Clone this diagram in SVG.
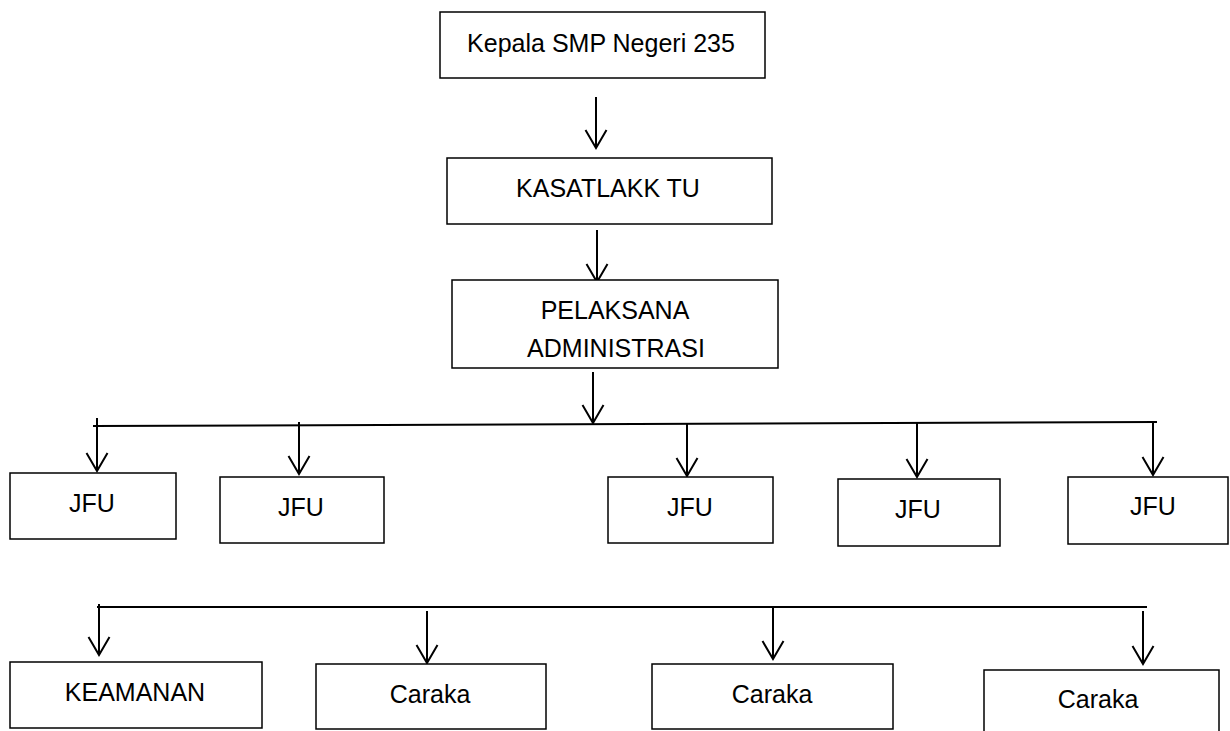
<svg xmlns="http://www.w3.org/2000/svg" width="1230" height="731" viewBox="0 0 1230 731">
<style>
.box{fill:#fff;stroke:#000;stroke-width:1.5}
.lbl{font-family:"Liberation Sans",Arial,sans-serif;font-size:25px;fill:#000;text-anchor:middle}
.con{fill:none;stroke:#000;stroke-width:2}
.arr{fill:none;stroke:#000;stroke-width:2;marker-end:url(#ah)}
</style>
<defs>
<marker id="ah" markerUnits="userSpaceOnUse" viewBox="-20 -12 22 24" refX="0" refY="0" markerWidth="22" markerHeight="24" orient="auto" overflow="visible">
<path d="M-18,-10.5 L0,0 L-18,10.5" fill="none" stroke="#000" stroke-width="2"/>
</marker>
</defs>
<rect width="1230" height="731" fill="#fff"/>
<g id="connectors">
<line class="arr" x1="596" y1="97" x2="596" y2="148"/>
<line class="arr" x1="597" y1="230" x2="597" y2="282"/>
<line class="arr" x1="593" y1="372" x2="593" y2="423"/>
<line class="con" x1="93" y1="426" x2="1157" y2="422"/>
<line class="arr" x1="97" y1="418" x2="97" y2="471"/>
<line class="arr" x1="299" y1="422" x2="299" y2="474"/>
<line class="arr" x1="687" y1="424" x2="687" y2="476"/>
<line class="arr" x1="917" y1="423" x2="917" y2="477"/>
<line class="arr" x1="1153" y1="422" x2="1153" y2="475"/>
<line class="con" x1="97" y1="607" x2="1147" y2="607"/>
<line class="arr" x1="99" y1="604" x2="99" y2="655"/>
<line class="arr" x1="427" y1="611" x2="427" y2="663"/>
<line class="arr" x1="773" y1="607" x2="773" y2="659"/>
<line class="arr" x1="1143" y1="611" x2="1143" y2="664"/>
</g>
<g id="kepala"><rect class="box" x="440" y="12" width="325" height="66"/><text class="lbl" x="601" y="52">Kepala SMP Negeri 235</text></g>
<g id="kasatlakk"><rect class="box" x="447" y="158" width="325" height="66"/><text class="lbl" x="608" y="197">KASATLAKK TU</text></g>
<g id="pelaksana"><rect class="box" x="452" y="280" width="326" height="88"/><text class="lbl" x="615" y="319">PELAKSANA</text><text class="lbl" x="616" y="357">ADMINISTRASI</text></g>
<g id="jfu1"><rect class="box" x="10" y="473" width="166" height="66"/><text class="lbl" x="92" y="512">JFU</text></g>
<g id="jfu2"><rect class="box" x="220" y="477" width="164" height="66"/><text class="lbl" x="301" y="516">JFU</text></g>
<g id="jfu3"><rect class="box" x="608" y="477" width="165" height="66"/><text class="lbl" x="690" y="516">JFU</text></g>
<g id="jfu4"><rect class="box" x="838" y="479" width="162" height="67"/><text class="lbl" x="918" y="518">JFU</text></g>
<g id="jfu5"><rect class="box" x="1068" y="477" width="160" height="67"/><text class="lbl" x="1153" y="515">JFU</text></g>
<g id="keamanan"><rect class="box" x="10" y="662" width="252" height="66"/><text class="lbl" x="135" y="701">KEAMANAN</text></g>
<g id="caraka1"><rect class="box" x="316" y="664" width="230" height="65"/><text class="lbl" x="430" y="703">Caraka</text></g>
<g id="caraka2"><rect class="box" x="652" y="664" width="241" height="65"/><text class="lbl" x="772" y="703">Caraka</text></g>
<g id="caraka3"><rect class="box" x="984" y="670" width="235" height="70"/><text class="lbl" x="1098" y="708">Caraka</text></g>
</svg>
